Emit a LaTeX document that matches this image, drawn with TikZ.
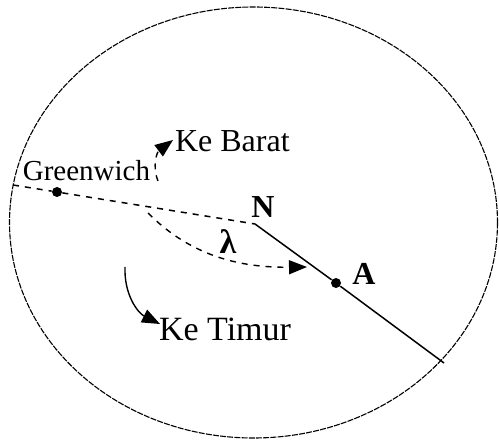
\documentclass[tikz,border=0pt]{standalone}
\usepackage{fontspec}
\setmainfont{Liberation Serif}
\usetikzlibrary{arrows.meta}
\begin{document}
\begin{tikzpicture}[x=0.5pt,y=-0.5pt,>={Triangle[length=9pt,width=7pt]},
  lbl/.style={font=\fontsize{16}{18}\selectfont},
  pt/.style={circle,fill,inner sep=0pt,minimum size=5pt}]
 \useasboundingbox (0,0) rectangle (499,443);
 \draw[line width=0.55pt,dash pattern=on 3pt off 0.6pt] (253.5,222.5) ellipse [x radius=244,y radius=215.5];
 % meridian and point A
 \coordinate (w) at (13,185);
 \node[pt] (gw) at (57,192) {};
 \coordinate (n) at (255,224);
 \node[pt] (a) at (336,283) {};
 \coordinate (e) at (444,363);
 \draw[line width=0.75pt,dashed] (w) -- (gw) -- (n);
 \draw[line width=0.75pt] (n) -- (a) -- (e);
 % labels
 \node[font=\fontsize{14.5}{16}\selectfont,anchor=base] (gwl) at (86.5,181) {Greenwich};
 \node[lbl,anchor=base west] (barat) at (168,152) {Ke Barat};
 \node[lbl,font=\fontsize{17}{18}\selectfont,anchor=base west] (timur) at (152,341) {Ke Timur};
 \node[font=\fontsize{16}{18}\selectfont\bfseries] (nl) at (263,207) {N};
 \node[font=\fontsize{16}{18}\selectfont\bfseries] (al) at (364,274) {A};
 \node[font=\fontsize{17}{18}\selectfont\bfseries] (lam) at (228,242) {λ};
 % arrows
 \coordinate (b0) at (158,181); \coordinate (b1) at (173,140);
 \coordinate (l0) at (148,213); \coordinate (l1) at (307,267);
 \coordinate (t0) at (125,267); \coordinate (t1) at (160,324);
 \draw[line width=0.7pt,dashed,->] (b0) .. controls (152,166) and (157,152) .. (b1);
 \draw[line width=0.7pt,dashed,->] (l0) .. controls (185,250) and (230,268) .. (l1);
 \draw[line width=0.7pt,->] (t0) .. controls (124,295) and (138,313) .. (t1);
\end{tikzpicture}
\end{document}
